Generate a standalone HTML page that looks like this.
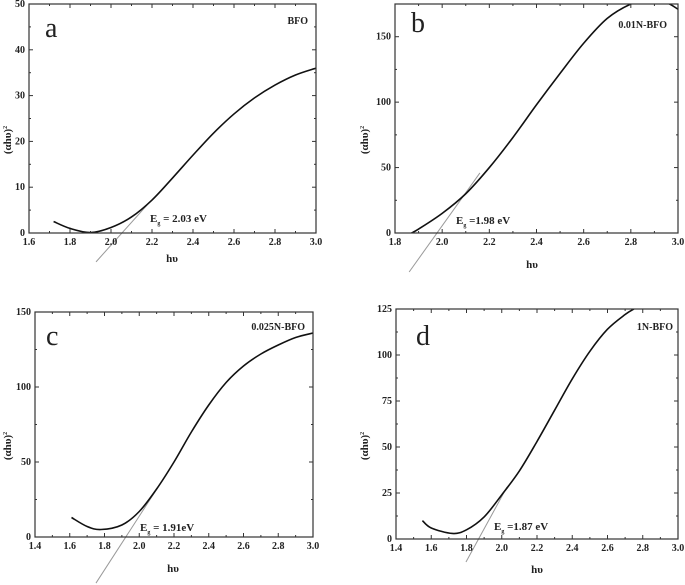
<!DOCTYPE html>
<html><head><meta charset="utf-8"><style>
html,body{margin:0;padding:0;background:#fff;}
svg{display:block;font-family:"Liberation Serif",serif;}
</style></head><body>
<svg id="fig" width="685" height="585" viewBox="0 0 685 585"></svg>
<script>
// Panel data
const aX=[1.72,1.8,1.9,2.0,2.1,2.2,2.3,2.4,2.5,2.6,2.7,2.8,2.9,3.0];
const aY=[2.5,1.0,0.1,1.2,3.5,7.2,12,17,21.8,26,29.5,32.3,34.5,36];
const bX=[1.87,1.9,2.0,2.1,2.2,2.3,2.4,2.5,2.6,2.7,2.8,2.87,2.95,3.0];
const bY=[0,3,15,30,50,73,98,122,145,164,175,178,176,171];
const cX=[1.61,1.7,1.78,1.9,2.0,2.1,2.2,2.3,2.4,2.5,2.6,2.7,2.8,2.9,3.0];
const cY=[13,7,5,8,17,32,50,70,88,103,114,122,128,133,136];
const dX=[1.55,1.6,1.72,1.8,1.9,2.0,2.1,2.2,2.3,2.4,2.5,2.6,2.7,2.75];
const dY=[10,6,3,5,12,24,37,53,70,87,102,114,122,125];
const aTan=[[1.927,-6.3],[2.176,6.1]];
const bTan=[[1.86,-29.8],[2.16,45.9]];
const cTan=[[1.751,-30.7],[2.09,30]];
const dTan=[[1.797,-12.5],[2.03,28.3]];
const aXTicks=[1.6,1.8,2.0,2.2,2.4,2.6,2.8,3.0];
const bXTicks=[1.8,2.0,2.2,2.4,2.6,2.8,3.0];
const cdXTicks=[1.4,1.6,1.8,2.0,2.2,2.4,2.6,2.8,3.0];
const aYTicks=[0,10,20,30,40,50];
const bYTicks=[0,50,100,150];
const cYTicks=[0,50,100,150];
const dYTicks=[0,25,50,75,100,125];

const NS="http://www.w3.org/2000/svg";
const svg=document.getElementById('fig');
function el(tag,attrs,parent,text){const e=document.createElementNS(NS,tag);for(const k in attrs)e.setAttribute(k,attrs[k]);if(text!==undefined)e.textContent=text;(parent||svg).appendChild(e);return e;}

const panels=[
 {id:'a',L:29,R:316,T:4,B:233,x0:1.6,x1:3.0,y0:0,y1:50,X:aX,Y:aY,tan:aTan,xt:aXTicks,yt:aYTicks,name:'BFO',nameX:308,nameY:24,lx:45,ly:37,eg:[150,222],egv:' = 2.03 eV',titleY:140,hx:172,hy:262},
 {id:'b',L:395,R:678,T:4,B:233,x0:1.8,x1:3.0,y0:0,y1:175,X:bX,Y:bY,tan:bTan,xt:bXTicks,yt:bYTicks,name:'0.01N-BFO',nameX:667,nameY:28,lx:411,ly:32,eg:[456,224],egv:' =1.98 eV',titleY:140,hx:532,hy:268},
 {id:'c',L:35,R:313,T:312,B:537,x0:1.4,x1:3.0,y0:0,y1:150,X:cX,Y:cY,tan:cTan,xt:cdXTicks,yt:cYTicks,name:'0.025N-BFO',nameX:305,nameY:330,lx:46,ly:345,eg:[140,531],egv:' = 1.91eV',titleY:446,hx:173,hy:572},
 {id:'d',L:396,R:678,T:309,B:539,x0:1.4,x1:3.0,y0:0,y1:125,X:dX,Y:dY,tan:dTan,xt:cdXTicks,yt:dYTicks,name:'1N-BFO',nameX:673,nameY:330,lx:416,ly:345,eg:[494,530],egv:' =1.87 eV',titleY:446,hx:537,hy:573}
];

panels.forEach(p=>{
 const g=el('g',{});
 
 
 const sx=v=>p.L+(v-p.x0)/(p.x1-p.x0)*(p.R-p.L);
 const sy=v=>p.B-(v-p.y0)/(p.y1-p.y0)*(p.B-p.T);
 const cid='clip-'+p.id;
 const cp=el('clipPath',{id:cid},g);el('rect',{x:p.L,y:p.T,width:p.R-p.L,height:p.B-p.T},cp);
 const tl=el('line',{x1:sx(p.tan[0][0]),y1:sy(p.tan[0][1]),x2:sx(p.tan[1][0]),y2:sy(p.tan[1][1]),stroke:'#999','stroke-width':1},g);
 
 
 const pts=p.X.map((x,i)=>[sx(x),sy(p.Y[i])]);
 let d='M'+pts[0][0]+','+pts[0][1];
 for(let i=0;i<pts.length-1;i++){const p0=pts[Math.max(0,i-1)],p1=pts[i],p2=pts[i+1],p3=pts[Math.min(pts.length-1,i+2)];
  d+=` C${p1[0]+(p2[0]-p0[0])/6},${p1[1]+(p2[1]-p0[1])/6} ${p2[0]-(p3[0]-p1[0])/6},${p2[1]-(p3[1]-p1[1])/6} ${p2[0]},${p2[1]}`;}
 const cv=el('path',{d:d,fill:'none',stroke:'#111','stroke-width':1.6,'clip-path':`url(#${cid})`},g);
 
 
 const fr=el('rect',{x:p.L,y:p.T,width:p.R-p.L,height:p.B-p.T,fill:'none',stroke:'#333','stroke-width':1.2},g);
 
 
 p.xt.forEach((t,i)=>{const x=sx(t);
  el('line',{x1:x,y1:p.B,x2:x,y2:p.B-4,stroke:'#333'},g);el('line',{x1:x,y1:p.T,x2:x,y2:p.T+4,stroke:'#333'},g);
  if(i<p.xt.length-1){const xm=sx((t+p.xt[i+1])/2);el('line',{x1:xm,y1:p.B,x2:xm,y2:p.B-2,stroke:'#333'},g);el('line',{x1:xm,y1:p.T,x2:xm,y2:p.T+2,stroke:'#333'},g);}
  const tx=el('text',{x:x,y:p.B+12,'text-anchor':'middle','font-size':10,'font-weight':'bold',fill:'#222'},g,t.toFixed(1));
  
  
 });
 p.yt.forEach((t,i)=>{const y=sy(t);
  el('line',{x1:p.L,y1:y,x2:p.L+4,y2:y,stroke:'#333'},g);el('line',{x1:p.R,y1:y,x2:p.R-4,y2:y,stroke:'#333'},g);
  const nxt=i<p.yt.length-1?p.yt[i+1]:t+(t-p.yt[i-1]);const ym=sy((t+nxt)/2);
  if(ym>=p.T){el('line',{x1:p.L,y1:ym,x2:p.L+2,y2:ym,stroke:'#333'},g);el('line',{x1:p.R,y1:ym,x2:p.R-2,y2:ym,stroke:'#333'},g);}
  const ty=el('text',{x:p.L-4,y:y+3,'text-anchor':'end','font-size':10,'font-weight':'bold',fill:'#222'},g,String(t));
  
  
 });
 const yt=el('text',{x:0,y:0,transform:`translate(${p.id==='a'||p.id==='c'?11:368},${p.titleY}) rotate(-90)`,'text-anchor':'middle','font-size':11,'font-weight':'bold',fill:'#222'},g);
 yt.innerHTML='(αhυ)<tspan dy="-4" font-size="6">2</tspan>';
 
 
 const xt=el('text',{x:p.hx,y:p.hy,'text-anchor':'middle','font-size':11,'font-weight':'bold',fill:'#222'},g,'hυ');
 
 
 const lt=el('text',{x:p.lx,y:p.ly,'font-size':28,fill:'#222'},g,p.id);
 
 
 const nm=el('text',{x:p.nameX,y:p.nameY,'text-anchor':'end','font-size':10,'font-weight':'bold',fill:'#222'},g,p.name);
 
 
 const eg=el('text',{x:p.eg[0],y:p.eg[1],'font-size':11,'font-weight':'bold',fill:'#222'},g);
 eg.innerHTML='E<tspan dy="3" font-size="6">g</tspan><tspan dy="-3">'+p.egv+'</tspan>';
 
 
});
</script>
</body></html>
